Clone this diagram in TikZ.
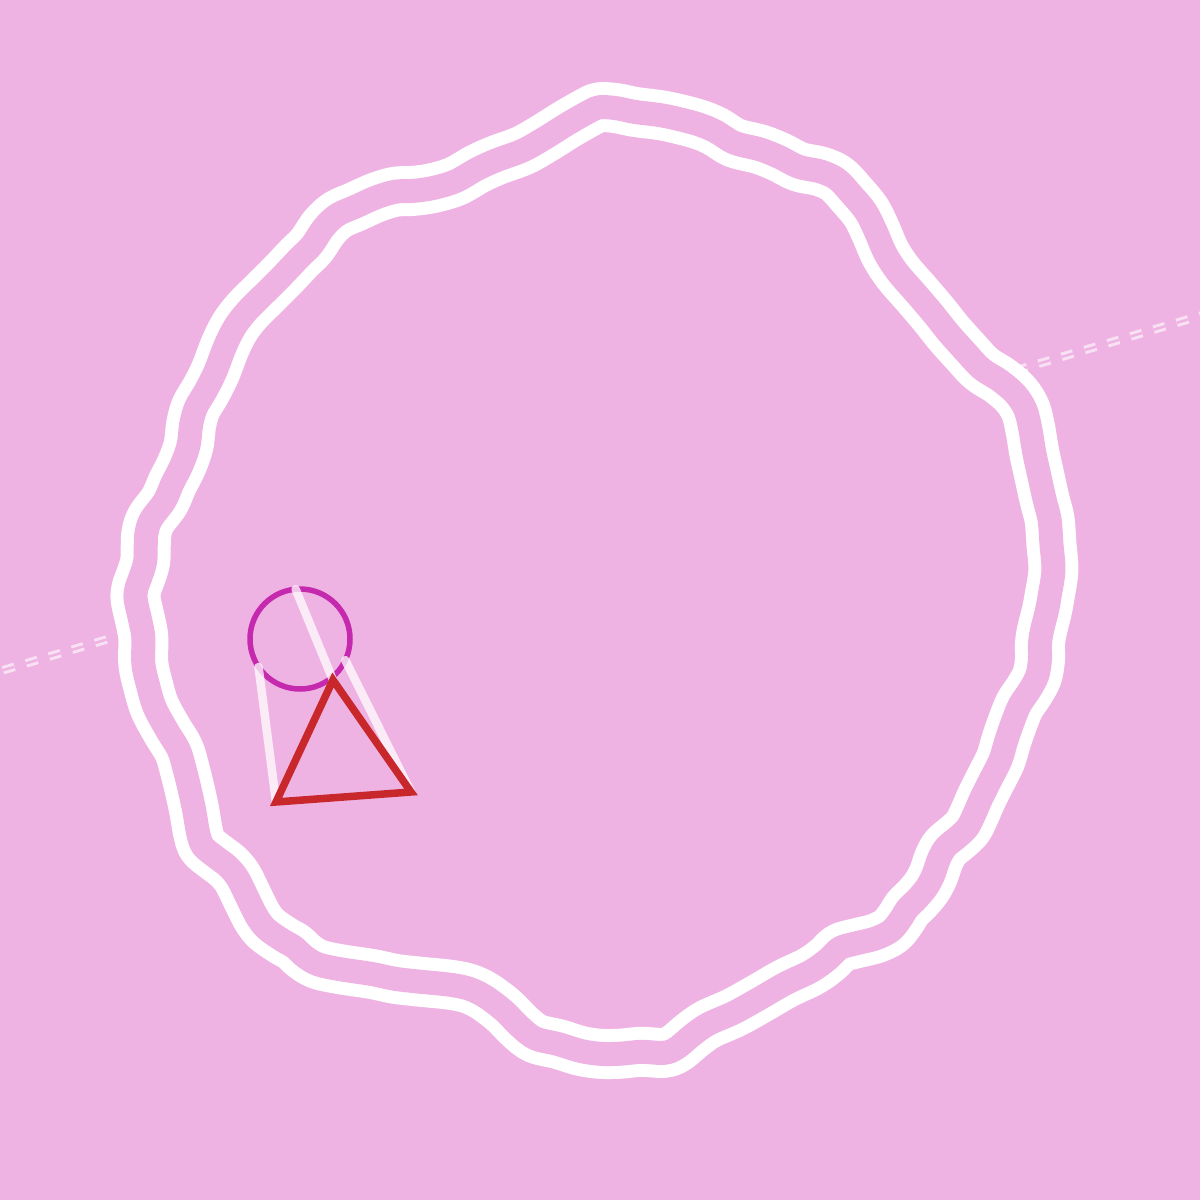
\documentclass[tikz,border=0pt]{standalone}
\usetikzlibrary{calc}

\definecolor{bgpink}{HTML}{EFB3E3}
\definecolor{ringmag}{HTML}{C52AAE}
\definecolor{trired}{HTML}{C8282B}

\begin{document}
\begin{tikzpicture}[
  x=0.1mm, y=-0.1mm,
  ring/.style={draw=white, line width=1.3mm, double=bgpink, double distance=2.4mm,
    fill=bgpink, line join=round},
  trail/.style={draw=bgpink!40!white, line width=0.3mm, double=bgpink,
    double distance=0.25mm, dash pattern=on 1.2mm off 1.2mm},
  beam/.style={white, draw opacity=0.75, line width=0.85mm, line cap=round},
]

% Hintergrund
\fill[bgpink] (0,0) rectangle (1200,1200);
\useasboundingbox (0,0) rectangle (1200,1200);

% gestrichelte Doppellinie (liegt unter dem Ring)
\coordinate (W) at (-20,677);
\coordinate (E) at (1220,310);
\draw[trail] (W) -- (E);

% welliger Doppelring, Mittellinie = Aussenkante skaliert
\draw[ring, scale around={0.961:(595,580)}] plot[smooth cycle, tension=0.55] coordinates {
  (600,88) (617,89) (637,93) (667,97) (700,105) (720,113) (740,125) (767,132)
  (787,140) (807,150) (830,155) (847,163) (863,180) (877,197) (887,217) (897,240)
  (910,260) (930,283) (947,303) (963,323) (980,342) (997,360) (1017,373) (1033,387)
  (1043,403) (1048,423) (1052,447) (1057,470) (1063,497) (1068,517) (1070,543) (1072,570)
  (1068,597) (1065,613) (1060,633) (1058,647) (1058,663) (1055,680) (1047,695) (1037,710)
  (1030,727) (1023,747) (1017,767) (1007,787) (997,807) (990,823) (983,837) (973,847)
  (960,858) (953,870) (947,887) (940,900) (930,912) (920,922) (913,933) (903,945)
  (887,953) (867,958) (850,963) (837,975) (820,987) (793,1000) (767,1015) (740,1030)
  (713,1042) (697,1053) (680,1067) (667,1072) (643,1071) (620,1073)
  (600,1073) (580,1070) (557,1063) (533,1057) (517,1045) (500,1028) (480,1013) (463,1005)
  (443,1001) (413,998) (387,995) (363,990) (330,985) (307,980) (293,972) (282,962)
  (270,955) (253,943) (243,930) (233,910) (223,890) (213,878) (200,868) (187,857)
  (182,843) (178,820) (173,797) (168,777) (162,757) (150,737) (137,713) (130,690)
  (125,667) (125,640) (122,623) (117,600)
  (118,588) (122,577) (127,560) (128,533) (133,517) (147,498) (155,480) (165,460)
  (172,440) (175,417) (180,400) (190,383) (200,363) (210,337) (220,317) (233,300)
  (253,280) (270,263) (287,245) (300,232) (313,213) (327,200) (347,191) (367,182)
  (387,176) (407,175) (427,172) (450,165) (473,152) (493,143) (520,133) (543,120)
  (567,105) (590,92)
};

% Kreis
\coordinate (C) at (300,639);
\draw[ringmag, line width=0.55mm] (C) circle (5mm);

% Dreieck-Ecken
\coordinate (A) at (333,680);
\coordinate (B) at (276,802);
\coordinate (D) at (411,792);

% helle Strahlen vom Kreis zu den Ecken
\coordinate (P1) at ($(C)+(95:5mm)$);
\coordinate (P2) at ($(C)+(214:5mm)$);
\coordinate (P3) at ($(C)+(335:5mm)$);
\draw[beam] (P1) -- (A);
\draw[beam] (P2) -- (B);
\draw[beam] (P3) -- (D);

% Dreieck
\draw[trired, line width=0.75mm, line join=miter] (A) -- (B) -- (D) -- cycle;

\end{tikzpicture}
\end{document}
